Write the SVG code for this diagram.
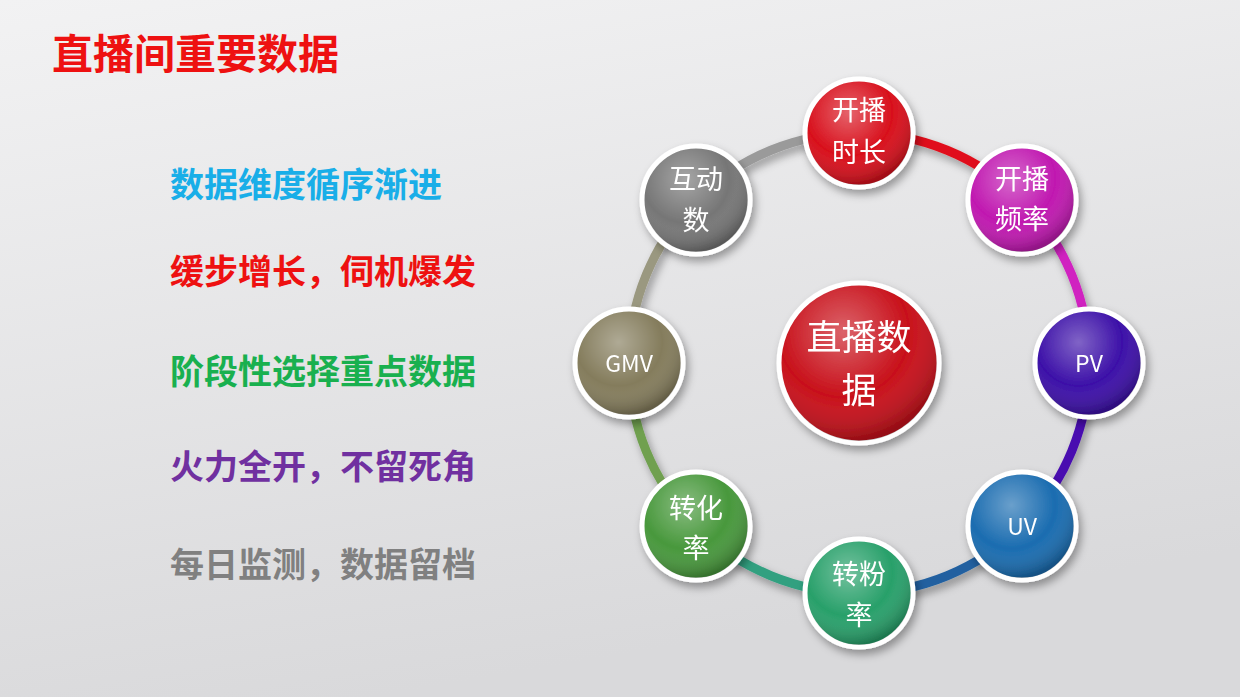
<svg xmlns="http://www.w3.org/2000/svg" width="1240" height="697" viewBox="0 0 1240 697">
<defs>
<linearGradient id="bg" x1="0" y1="0" x2="0.3" y2="1"><stop offset="0" stop-color="#f2f2f3"/><stop offset="1" stop-color="#d9d9db"/></linearGradient>
<radialGradient id="gloss" cx="0.4" cy="0.3" r="0.7"><stop offset="0" stop-color="#fff" stop-opacity="0.35"/><stop offset="0.6" stop-color="#fff" stop-opacity="0"/><stop offset="1" stop-color="#000" stop-opacity="0.25"/></radialGradient>
<filter id="sh" x="-30%" y="-30%" width="160%" height="160%"><feDropShadow dx="3" dy="5" stdDeviation="4" flood-color="#000" flood-opacity="0.35"/></filter>
</defs>
<style>
.t{font-family:"Noto Sans CJK SC","Liberation Sans",sans-serif;font-weight:bold;font-size:34px}
.n{font-family:"Noto Sans CJK SC","Liberation Sans",sans-serif;font-size:27px;fill:#fff;text-anchor:middle}
.ring{fill:none;stroke-width:9;stroke-linecap:round}
.bd{stroke:#fff;stroke-width:5}
</style>
<rect width="1240" height="697" fill="url(#bg)"/>
<text x="52" y="69" class="t" style="font-size:41px" fill="#ee1111">直播间重要数据</text>
<text x="170" y="197" class="t" fill="#19aee8">数据维度循序渐进</text>
<text x="170" y="284" class="t" fill="#ee1111">缓步增长，伺机爆发</text>
<text x="170" y="384" class="t" fill="#19b04f">阶段性选择重点数据</text>
<text x="170" y="479" class="t" fill="#7030a0">火力全开，不留死角</text>
<text x="170" y="577" class="t" fill="#808080">每日监测，数据留档</text>
<g id="connectors" filter="url(#sh)">
<path class="ring" stroke="#9a9a9a" d="M696 200 A230 230 0 0 1 859 133"/>
<path class="ring" stroke="#e0101a" d="M859 133 A230 230 0 0 1 1022 200"/>
<path class="ring" stroke="#d020c0" d="M1022 200 A230 230 0 0 1 1089 363"/>
<path class="ring" stroke="#4a10b0" d="M1089 363 A230 230 0 0 1 1022 526"/>
<path class="ring" stroke="#2060a0" d="M1022 526 A230 230 0 0 1 859 593"/>
<path class="ring" stroke="#30a080" d="M859 593 A230 230 0 0 1 696 526"/>
<path class="ring" stroke="#70a050" d="M696 526 A230 230 0 0 1 629 363"/>
<path class="ring" stroke="#9a9880" d="M629 363 A230 230 0 0 1 696 200"/>
</g>
<g id="center" filter="url(#sh)"><circle cx="859" cy="363" r="80" fill="#c8101a" class="bd"/><circle cx="859" cy="363" r="78" fill="url(#gloss)"/>
<text x="859" y="350" class="n" style="font-size:35px">直播数</text><text x="859" y="403" class="n" style="font-size:35px">据</text></g>
<g id="n1" filter="url(#sh)"><circle cx="859" cy="133" r="54" fill="#d8101c" class="bd"/><circle cx="859" cy="133" r="52" fill="url(#gloss)"/><text x="859" y="120" class="n">开播</text><text x="859" y="162" class="n">时长</text></g>
<g id="n2" filter="url(#sh)"><circle cx="1022" cy="200" r="54" fill="#c018b0" class="bd"/><circle cx="1022" cy="200" r="52" fill="url(#gloss)"/><text x="1022" y="189" class="n">开播</text><text x="1022" y="229" class="n">频率</text></g>
<g id="n3" filter="url(#sh)"><circle cx="1089" cy="363" r="54" fill="#3c10a8" class="bd"/><circle cx="1089" cy="363" r="52" fill="url(#gloss)"/><text x="1089" y="372" class="n" style="font-size:23px">PV</text></g>
<g id="n4" filter="url(#sh)"><circle cx="1022" cy="526" r="54" fill="#1a6cb0" class="bd"/><circle cx="1022" cy="526" r="52" fill="url(#gloss)"/><text x="1022" y="535" class="n" style="font-size:23px">UV</text></g>
<g id="n5" filter="url(#sh)"><circle cx="859" cy="593" r="54" fill="#28a06a" class="bd"/><circle cx="859" cy="593" r="52" fill="url(#gloss)"/><text x="859" y="584" class="n">转粉</text><text x="859" y="625" class="n">率</text></g>
<g id="n6" filter="url(#sh)"><circle cx="696" cy="526" r="54" fill="#48983c" class="bd"/><circle cx="696" cy="526" r="52" fill="url(#gloss)"/><text x="696" y="518" class="n">转化</text><text x="696" y="558" class="n">率</text></g>
<g id="n7" filter="url(#sh)"><circle cx="629" cy="363" r="54" fill="#847c5c" class="bd"/><circle cx="629" cy="363" r="52" fill="url(#gloss)"/><text x="629" y="372" class="n" style="font-size:23px">GMV</text></g>
<g id="n8" filter="url(#sh)"><circle cx="696" cy="200" r="54" fill="#767676" class="bd"/><circle cx="696" cy="200" r="52" fill="url(#gloss)"/><text x="696" y="189" class="n">互动</text><text x="696" y="230" class="n">数</text></g>
</svg>
